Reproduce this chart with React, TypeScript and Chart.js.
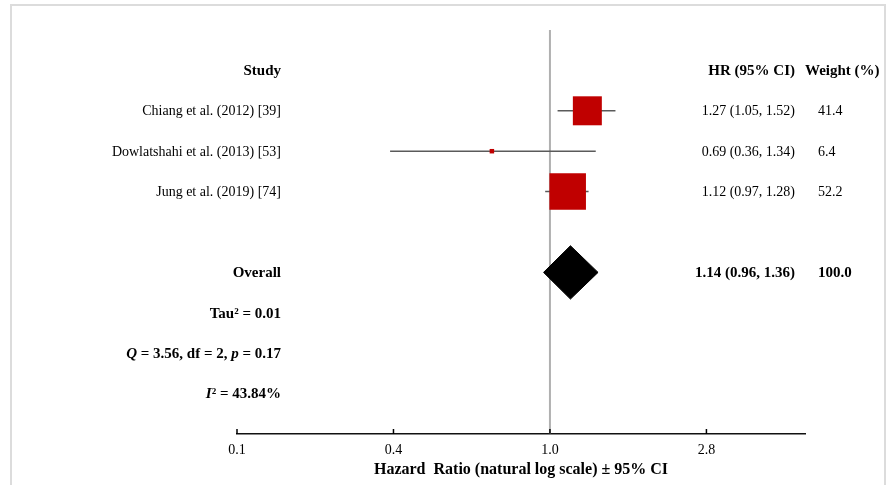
import React, { useEffect, useRef } from "react";
import { Chart, registerables } from "chart.js";

Chart.register(...registerables);

// Individual studies (hazard ratios with 95% CI and random-effects weights)
const studies = ["Chiang et al. (2012) [39]", "Dowlatshahi et al. (2013) [53]", "Jung et al. (2019) [74]"];
const hazardRatios = [1.27, 0.69, 1.12];
const ciLower = [1.05, 0.36, 0.97];
const ciUpper = [1.52, 1.34, 1.28];
const weights = [41.4, 6.4, 52.2];

// Pooled estimate
const overallHR = 1.14;
const overallLower = 0.96;
const overallUpper = 1.36;
const overallWeight = 100.0;

// Heterogeneity statistics
const tau2 = 0.01;
const qStat = 3.56;
const qDf = 2;
const qP = 0.17;
const iSquared = 43.84;

// Axis ticks, in ln(HR), and their printed labels
const tickValues = [-2, -1, 0, 1];
const tickLabels = ["0.1", "0.4", "1.0", "2.8"];

const SERIF = '"Liberation Serif", "Times New Roman", serif';
const HEADER_ROW = 0;
const FIRST_STUDY_ROW = 1;
const OVERALL_ROW = 5;
const STATS_ROW = 6;

const fmt2 = (v: number) => v.toFixed(2);
const ciText = (hr: number, lo: number, hi: number) => `${fmt2(hr)} (${fmt2(lo)}, ${fmt2(hi)})`;

type Run = { text: string; style: string };

const forestText = {
  id: "forestText",
  beforeDraw(chart: any) {
    const { ctx, width, height } = chart;
    ctx.save();
    ctx.fillStyle = "#ffffff";
    ctx.fillRect(0, 0, width, height);
    ctx.restore();
  },
  afterDraw(chart: any) {
    const { ctx, scales, chartArea } = chart;
    const yPix = (row: number) => scales.y.getPixelForValue(row) + 1;
    const labelRight = 281;
    const hrRight = 795;
    const weightLeft = 818;
    const regular = `14px ${SERIF}`;
    const bold = `bold 15px ${SERIF}`;
    const boldItalic = `italic bold 15px ${SERIF}`;

    ctx.save();
    // outer frame
    ctx.strokeStyle = "#dcdcdc";
    ctx.lineWidth = 2;
    ctx.beginPath();
    ctx.moveTo(11, 490);
    ctx.lineTo(11, 5);
    ctx.lineTo(885, 5);
    ctx.lineTo(885, 490);
    ctx.stroke();

    // upward tick marks on the x axis
    ctx.strokeStyle = "#000000";
    ctx.lineWidth = 1.5;
    tickValues.forEach((v) => {
      const x = scales.x.getPixelForValue(v);
      ctx.beginPath();
      ctx.moveTo(x, chartArea.bottom);
      ctx.lineTo(x, chartArea.bottom - 5);
      ctx.stroke();
    });

    ctx.fillStyle = "#000000";
    ctx.textBaseline = "middle";

    // column headers
    const yh = yPix(HEADER_ROW);
    ctx.font = bold;
    ctx.textAlign = "right";
    ctx.fillText("Study", labelRight, yh);
    ctx.fillText("HR (95% CI)", hrRight, yh);
    ctx.textAlign = "left";
    ctx.fillText("Weight (%)", 805, yh);

    // study rows
    ctx.font = regular;
    studies.forEach((name, i) => {
      const y = yPix(FIRST_STUDY_ROW + i);
      ctx.textAlign = "right";
      ctx.fillText(name, labelRight, y);
      ctx.fillText(ciText(hazardRatios[i], ciLower[i], ciUpper[i]), hrRight, y);
      ctx.textAlign = "left";
      ctx.fillText(weights[i].toFixed(1), weightLeft, y);
    });

    // overall row
    const yo = yPix(OVERALL_ROW);
    ctx.font = bold;
    ctx.textAlign = "right";
    ctx.fillText("Overall", labelRight, yo);
    ctx.fillText(ciText(overallHR, overallLower, overallUpper), hrRight, yo);
    ctx.textAlign = "left";
    ctx.fillText(overallWeight.toFixed(1), weightLeft, yo);

    // heterogeneity lines, right-aligned runs of mixed styles
    const statLines: Run[][] = [
      [{ text: `Tau\u00b2 = ${fmt2(tau2)}`, style: bold }],
      [
        { text: "Q", style: boldItalic },
        { text: ` = ${fmt2(qStat)}, df = ${qDf}, `, style: bold },
        { text: "p", style: boldItalic },
        { text: ` = ${fmt2(qP)}`, style: bold },
      ],
      [
        { text: "I", style: boldItalic },
        { text: `\u00b2 = ${fmt2(iSquared)}%`, style: bold },
      ],
    ];
    ctx.textAlign = "left";
    statLines.forEach((runs, i) => {
      const y = yPix(STATS_ROW + i);
      let total = 0;
      runs.forEach((r) => {
        ctx.font = r.style;
        total += ctx.measureText(r.text).width;
      });
      let x = labelRight - total;
      runs.forEach((r) => {
        ctx.font = r.style;
        ctx.fillText(r.text, x, y);
        x += ctx.measureText(r.text).width;
      });
    });
    ctx.restore();
  },
};

export default function App() {
  const canvasRef = useRef<HTMLCanvasElement | null>(null);

  useEffect(() => {
    const canvas = canvasRef.current;
    if (!canvas) return;

    const ln = Math.log;
    const halfDiamond = 0.66;

    const ciDatasets = studies.map((_, i) => ({
      type: "scatter" as const,
      data: [
        { x: ln(ciLower[i]), y: FIRST_STUDY_ROW + i },
        { x: ln(ciUpper[i]), y: FIRST_STUDY_ROW + i },
      ],
      showLine: true,
      borderColor: "#5a5a5a",
      borderWidth: 1.5,
      pointRadius: 0,
      order: 5,
    }));

    const chart = new Chart(canvas, {
      type: "scatter",
      data: {
        datasets: [
          {
            data: [
              { x: 0, y: -1 },
              { x: 0, y: 9 },
            ],
            showLine: true,
            borderColor: "#b0b0b0",
            borderWidth: 2,
            pointRadius: 0,
            order: 10,
          },
          ...ciDatasets,
          {
            data: hazardRatios.map((hr, i) => ({ x: ln(hr), y: FIRST_STUDY_ROW + i })),
            pointStyle: "rect",
            pointRadius: (c: any) => weights[c.dataIndex] * 0.495,
            pointBackgroundColor: "#c00000",
            pointBorderColor: "#c00000",
            pointBorderWidth: 0,
            showLine: false,
            order: 1,
          },
          {
            data: [
              { x: ln(overallLower), y: OVERALL_ROW },
              { x: ln(overallHR), y: OVERALL_ROW - halfDiamond },
              { x: ln(overallUpper), y: OVERALL_ROW },
              { x: ln(overallHR), y: OVERALL_ROW + halfDiamond },
              { x: ln(overallLower), y: OVERALL_ROW },
            ],
            showLine: true,
            fill: "shape",
            backgroundColor: "#000000",
            borderColor: "#000000",
            borderWidth: 1,
            pointRadius: 0,
            tension: 0,
            order: 1,
          },
        ] as any,
      },
      options: {
        animation: false,
        responsive: false,
        events: [],
        layout: { padding: { left: 237, right: 83, top: 30, bottom: 2 } },
        plugins: {
          legend: { display: false },
          tooltip: { enabled: false },
        },
        scales: {
          x: {
            type: "linear",
            min: -2,
            max: 1.63,
            afterBuildTicks: (s: any) => {
              s.ticks = tickValues.map((v) => ({ value: v }));
            },
            ticks: {
              autoSkip: false,
              maxRotation: 0,
              padding: 8,
              color: "#000000",
              font: { family: SERIF, size: 14 },
              callback: (_v: any, i: number) => tickLabels[i],
            },
            grid: { display: false, drawTicks: false },
            border: { display: true, color: "#111111", width: 1.5 },
            title: {
              display: true,
              text: "Hazard  Ratio (natural log scale) \u00b1 95% CI",
              color: "#000000",
              font: { family: SERIF, size: 16, weight: "bold" },
              padding: { top: -7, bottom: 4 },
            },
          },
          y: {
            type: "linear",
            min: -1,
            max: 9,
            reverse: true,
            display: false,
          },
        },
      },
      plugins: [forestText],
    });

    return () => chart.destroy();
  }, []);

  return (
    <div style={{ position: "absolute", left: 0, top: 0, width: 888, height: 485, background: "#fff" }}>
      <canvas ref={canvasRef} width={888} height={485} style={{ display: "block" }} />
    </div>
  );
}
